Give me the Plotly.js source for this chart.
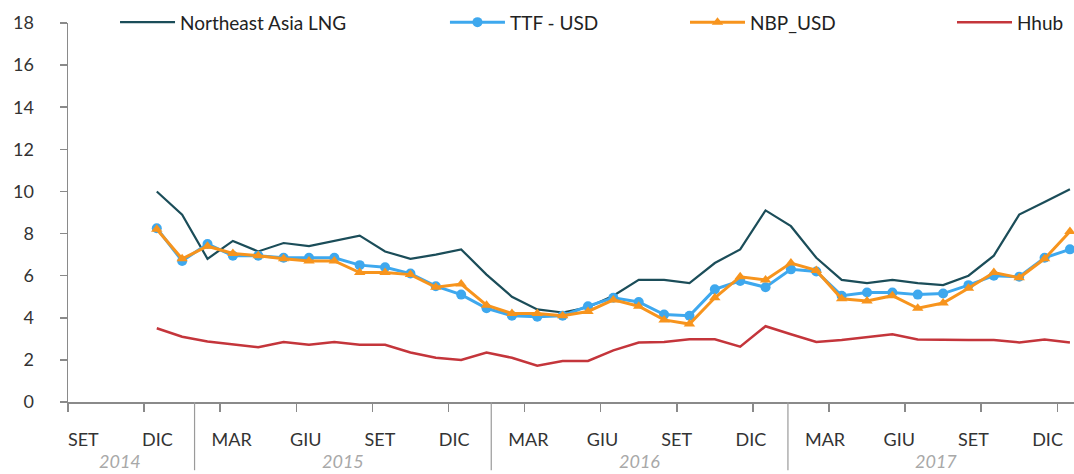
<!DOCTYPE html>
<html><head><meta charset="utf-8">
<script src="https://cdn.plot.ly/plotly-3.0.1.min.js"></script>
<style>html,body{margin:0;padding:0;background:#fff}#chart{width:1074px;height:474px}</style>
</head><body><div id="chart"></div>
<script>
// Category axis: months from SET 2014 to DIC 2017
const months = [
  "2014-09","2014-10","2014-11","2014-12",
  "2015-01","2015-02","2015-03","2015-04","2015-05","2015-06","2015-07","2015-08","2015-09","2015-10","2015-11","2015-12",
  "2016-01","2016-02","2016-03","2016-04","2016-05","2016-06","2016-07","2016-08","2016-09","2016-10","2016-11","2016-12",
  "2017-01","2017-02","2017-03","2017-04","2017-05","2017-06","2017-07","2017-08","2017-09","2017-10","2017-11","2017-12"
];
// data months: DIC 2014 .. DIC 2017
const dataMonths = months.slice(3);
const tickMonths = ["2014-09","2014-12","2015-03","2015-06","2015-09","2015-12","2016-03","2016-06","2016-09","2016-12","2017-03","2017-06","2017-09","2017-12"];
const tickLabels = ["SET","DIC","MAR","GIU","SET","DIC","MAR","GIU","SET","DIC","MAR","GIU","SET","DIC"];
const years = ["2014","2015","2016","2017"];

const neAsiaLNG = [10.0,8.9,6.8,7.65,7.15,7.55,7.4,7.65,7.9,7.15,6.8,7.0,7.25,6.05,5.0,4.4,4.25,4.5,5.05,5.8,5.8,5.65,6.6,7.25,9.1,8.35,6.85,5.8,5.65,5.8,5.65,5.55,6.0,6.95,8.9,9.5,10.1];
const ttfUSD    = [8.25,6.7,7.5,6.95,6.95,6.85,6.85,6.85,6.5,6.4,6.1,5.5,5.1,4.45,4.1,4.05,4.1,4.55,4.95,4.75,4.15,4.1,5.35,5.75,5.45,6.3,6.2,5.05,5.2,5.2,5.1,5.15,5.55,6.0,5.95,6.85,7.25];
const nbpUSD    = [8.2,6.8,7.4,7.05,6.95,6.8,6.7,6.7,6.15,6.15,6.05,5.45,5.6,4.6,4.2,4.2,4.1,4.3,4.85,4.55,3.9,3.7,4.95,5.95,5.8,6.6,6.25,4.9,4.8,5.05,4.45,4.7,5.4,6.15,5.9,6.8,8.1];
const hhub      = [3.5,3.1,2.87,2.72,2.6,2.85,2.72,2.85,2.72,2.72,2.35,2.1,2.0,2.35,2.1,1.72,1.95,1.95,2.45,2.82,2.85,2.98,2.98,2.63,3.6,3.22,2.85,2.95,3.07,3.22,2.97,2.95,2.95,2.95,2.83,2.97,2.83];

const legendFont = {family: "Lato, 'Open Sans', sans-serif", size: 19, color: "#222"};
const tickFont = {family: "Lato, 'Open Sans', sans-serif", size: 18, color: "#333"};

const traces = [
  {x: dataMonths, y: neAsiaLNG, name: "Northeast Asia LNG", type: "scatter", mode: "lines",
   line: {color: "#1b4d59", width: 2.2}, legend: "legend"},
  {x: dataMonths, y: ttfUSD, name: "TTF - USD", type: "scatter", mode: "lines+markers",
   line: {color: "#3ea8ee", width: 3}, marker: {symbol: "circle", size: 10, color: "#3ea8ee"}, legend: "legend2"},
  {x: dataMonths, y: nbpUSD, name: "NBP_USD", type: "scatter", mode: "lines+markers",
   line: {color: "#f7941d", width: 3}, marker: {symbol: "triangle-up", size: 10, color: "#f7941d"}, legend: "legend3"},
  {x: dataMonths, y: hhub, name: "Hhub", type: "scatter", mode: "lines",
   line: {color: "#c4353b", width: 2.5}, legend: "legend4"}
];

const labelIdx = tickLabels.map((_, i) => i * 3);
const legendBase = {orientation: "h", xref: "container", yref: "container", y: 0.953, yanchor: "middle",
  xanchor: "left", bgcolor: "rgba(0,0,0,0)", font: legendFont, itemwidth: 55};

const layout = {
  width: 1074, height: 474,
  margin: {l: 68, r: 0, t: 23, b: 72, autoexpand: false},
  paper_bgcolor: "#fff", plot_bgcolor: "#fff",
  xaxis: {
    type: "category", categoryorder: "array", categoryarray: months,
    range: [-0.5, 39.16], showgrid: false, zeroline: false,
    showline: true, linecolor: "#8a8a8a", linewidth: 1.5,
    ticks: "outside", ticklen: 8, tickwidth: 1.5, tickcolor: "#8a8a8a",
    tickmode: "array", tickvals: tickMonths, ticktext: tickLabels,
    tickson: "boundaries", showticklabels: false
  },
  xaxis2: {
    overlaying: "x", side: "bottom", type: "linear", anchor: "y",
    range: [-0.619, 40.07], showgrid: false, zeroline: false, showline: false,
    ticks: "", tickmode: "array", tickvals: labelIdx, ticktext: tickLabels,
    tickfont: tickFont, ticklabelstandoff: 25
  },
  yaxis: {
    range: [0, 18], dtick: 2, tick0: 0, showgrid: false, zeroline: false,
    showline: true, linecolor: "#8a8a8a", linewidth: 1.5,
    ticks: "outside", ticklen: 7, tickwidth: 1.5, tickcolor: "#8a8a8a",
    tickfont: tickFont, ticklabelstandoff: 22
  },
  showlegend: true,
  legend: Object.assign({}, legendBase, {x: 0.1071}),
  legend2: Object.assign({}, legendBase, {x: 0.4143}),
  legend3: Object.assign({}, legendBase, {x: 0.6378}),
  legend4: Object.assign({}, legendBase, {x: 0.8864}),
  shapes: [4.5, 16.5, 28.5].map(v => ({type: "line", xref: "x2", yref: "paper", x0: v, x1: v, y0: 0, y1: -0.18,
    line: {color: "#9a9a9a", width: 1.2}})),
  annotations: years.map((yr, i) => ({xref: "x2", yref: "paper", x: [1.5, 10.5, 22.5, 34.5][i], y: -0.156,
    yanchor: "middle", text: yr, showarrow: false,
    font: {family: "Lato, 'Open Sans', sans-serif", size: 18, color: "#a8a8a8", style: "italic"}}))
};

Plotly.newPlot("chart", traces, layout, {displayModeBar: false, staticPlot: true});
</script></body></html>
